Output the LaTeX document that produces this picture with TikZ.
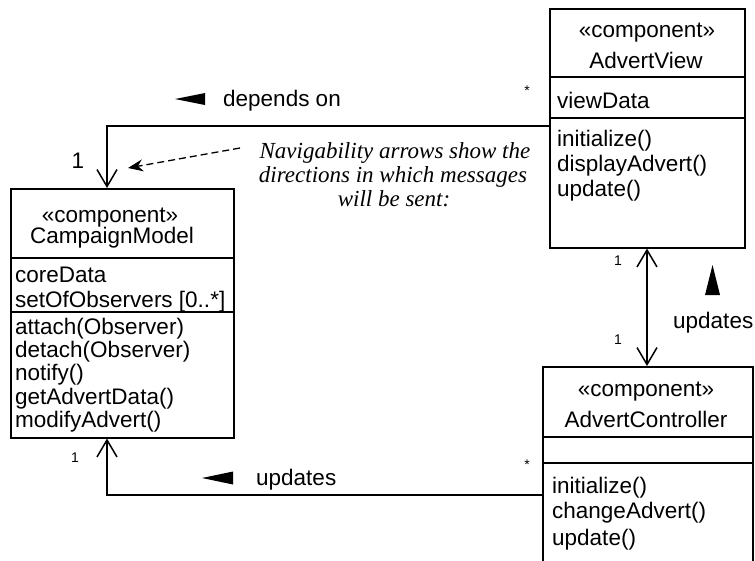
\documentclass[tikz,border=0pt]{standalone}
\usepackage{fontspec}
\setmainfont{Liberation Sans}
\newfontfamily\notefamily{Liberation Serif}
\usetikzlibrary{arrows.meta,calc}
\begin{document}
\begin{tikzpicture}[x=1pt,y=-1pt,
  box/.style={draw, line width=1.5pt, inner sep=0pt, anchor=north west},
  lbl/.style={font=\fontsize{22.5}{24}\selectfont, inner sep=0pt, anchor=base},
  lft/.style={lbl, anchor=base west},
  small/.style={font=\fontsize{14}{16}\selectfont, inner sep=0pt},
  notetext/.style={font=\fontsize{23}{24}\selectfont\notefamily\itshape, inner sep=0pt, anchor=base},
  conn/.style={line width=1.5pt},
  barb/.style={conn, -{Straight Barb[length=17pt,width=20pt]}},
  tri/.style={fill=black, draw=none},
]
\clip (0,0) rectangle (755,560);
\fill[white] (0,0) rectangle (755,560);

% ---------- CampaignModel ----------
\node[box, minimum width=223pt, minimum height=249pt] (cm) at (10,188) {};
\draw[conn] (10,258) -- (233,258);
\draw[conn] (10,312) -- (233,312);
\node[lbl] (cmS) at (110,222) {«component»};
\node[lbl] (cmN) at (112,243) {CampaignModel};
\node[lft] (cmA1) at (15,282) {coreData};
\node[lft] (cmA2) at (15,307) {setOfObservers [0..*]};
\node[lft] (cmO1) at (15,334) {attach(Observer)};
\node[lft] (cmO2) at (15,357.3) {detach(Observer)};
\node[lft] (cmO3) at (15,380.6) {notify()};
\node[lft] (cmO4) at (15,404) {getAdvertData()};
\node[lft] (cmO5) at (15,427.3) {modifyAdvert()};

% ---------- AdvertView ----------
\node[box, minimum width=195pt, minimum height=239pt] (av) at (549,8) {};
\draw[conn] (549,77) -- (744,77);
\draw[conn] (549,118) -- (744,118);
\node[lbl] (avS) at (647,37) {«component»};
\node[lbl] (avN) at (646,68) {AdvertView};
\node[lft] (avA1) at (557,108) {viewData};
\node[lft] (avO1) at (557,146) {initialize()};
\node[lft] (avO2) at (557,171) {displayAdvert()};
\node[lft] (avO3) at (557,196) {update()};

% ---------- AdvertController ----------
\node[box, minimum width=210pt, minimum height=210pt] (ac) at (542,366) {};
\draw[conn] (542,437) -- (752,437);
\draw[conn] (542,463) -- (752,463);
\node[lbl] (acS) at (646,396) {«component»};
\node[lbl] (acN) at (646,427) {AdvertController};
\node[lft] (acO1) at (552,493) {initialize()};
\node[lft] (acO2) at (552,518) {changeAdvert()};
\node[lft] (acO3) at (552,545) {update()};

% ---------- connectors ----------
\draw[barb] ($(av.north west)+(0,118)$) -| ($(cm.north west)+(97,0)$);
\draw[conn, {Straight Barb[length=17pt,width=20pt]}-{Straight Barb[length=17pt,width=20pt]}]
  ($(av.south west)+(98,0)$) -- ($(ac.north west)+(105,0)$);
\draw[barb] ($(ac.north west)+(0,129)$) -| ($(cm.south west)+(97,0)$);

% ---------- labels ----------
\node[font=\fontsize{22.5}{24}\selectfont, inner sep=0pt] (m1) at (78,161) {1};
\node[small] (m2) at (527,91) {*};
\node[small] (m3) at (618,261) {1};
\node[small] (m4) at (618,340) {1};
\node[small] (m5) at (75,458) {1};
\node[small] (m6) at (527,465) {*};

\fill[tri] (175,99) -- (205,93) -- (205,105) -- cycle;
\node[lft] (dep) at (223,106) {depends on};
\fill[tri] (202,478) -- (233,471.5) -- (233,484.5) -- cycle;
\node[lft] (upd1) at (256,485) {updates};
\fill[tri] (712.5,265) -- (705,295) -- (720,295) -- cycle;
\node[lft] (upd2) at (673,328) {updates};

% ---------- note ----------
\node[notetext] (n1) at (395,158) {Navigability arrows show the};
\node[notetext] (n2) at (393,182) {directions in which messages};
\node[notetext] (n3) at (394,206) {will be sent:};
\coordinate (nS) at (240,148);
\coordinate (nE) at (128,168);
\draw[line width=1.3pt, dash pattern=on 7pt off 4pt, -{Stealth[length=15pt,width=12pt]}] (nS) -- (nE);
\end{tikzpicture}
\end{document}
